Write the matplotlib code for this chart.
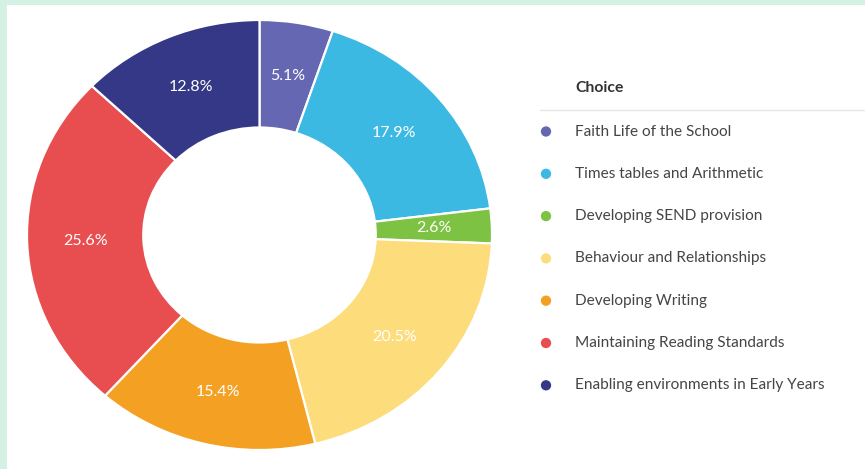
import matplotlib

matplotlib.use("Agg")
import matplotlib.pyplot as plt
from matplotlib.patches import Rectangle

plt.rcParams["font.family"] = ["Lato", "DejaVu Sans"]

choices = [
    "Faith Life of the School",
    "Times tables and Arithmetic",
    "Developing SEND provision",
    "Behaviour and Relationships",
    "Developing Writing",
    "Maintaining Reading Standards",
    "Enabling environments in Early Years",
]
percents = [5.1, 17.9, 2.6, 20.5, 15.4, 25.6, 12.8]
colors = ["#6567b3", "#3cb9e3", "#7dc242", "#fddc7b", "#f4a022", "#e84e50", "#343886"]

W, H = 865, 469
fig = plt.figure(figsize=(W / 100, H / 100), dpi=100)
fig.patch.set_facecolor("#d5f1e4")
# white card behind everything
fig.patches.append(Rectangle((7 / W, 0), 1 - 7 / W, (H - 5) / H,
                             transform=fig.transFigure, facecolor="white",
                             edgecolor="none", zorder=-10))

# donut (slightly stretched horizontally like the source)
ax = fig.add_axes([27 / W, 19 / H, 465 / W, 430 / H])
wedges, texts, autotexts = ax.pie(
    percents, colors=colors, startangle=90, counterclock=False,
    radius=1.0, pctdistance=0.75,
    autopct=lambda p: "",
    wedgeprops=dict(width=0.5, edgecolor="white", linewidth=1.6),
)
for at, v in zip(autotexts, percents):
    at.set_text(f"{v}%")
    at.set_color("white")
    at.set_fontsize(11.5)
ax.set_aspect("auto")
ax.set_xlim(-1, 1)
ax.set_ylim(-1, 1)
ax.axis("off")

# legend panel, pixel coordinates (y measured from top)
lg = fig.add_axes([0, 0, 1, 1], facecolor="none")
lg.set_xlim(0, W)
lg.set_ylim(H, 0)
lg.axis("off")
text_color = "#454545"
lg.text(575, 88, "Choice", fontsize=11.3, fontweight="bold", color="#333333", va="center")
lg.plot([540, W], [110, 110], color="#e6e6e6", lw=1)
row0, step = 131.5, 42.3
for i, (name, c) in enumerate(zip(choices, colors)):
    y = row0 + i * step
    lg.scatter([546], [y], s=55, color=c, edgecolors="none")
    lg.text(575, y, name, fontsize=11.1, color=text_color, va="center")

fig.savefig("out.png", dpi=100)
